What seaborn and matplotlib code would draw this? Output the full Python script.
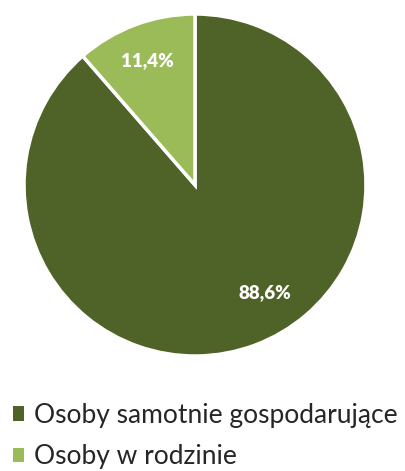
import matplotlib
matplotlib.use("Agg")
import matplotlib.pyplot as plt
import seaborn as sns
from matplotlib.patches import Patch

# data
categories = ["Osoby samotnie gospodarujące", "Osoby w rodzinie"]
shares = [88.6, 11.4]
value_labels = ["88,6%", "11,4%"]
colors = ["#4f6228", "#9bbb59"]

sns.set_theme(style="white")
plt.rcParams['font.family'] = ['Lato', 'DejaVu Sans']

fig = plt.figure(figsize=(4.05, 4.71), dpi=100)
# pie area: center ~ (195,185) px, radius ~171 px
ax = fig.add_axes([(195 - 171) / 405, 1 - (185 + 171) / 471, 342 / 405, 342 / 471])

wedges, _ = ax.pie(shares, colors=colors, startangle=90, counterclock=False,
                   wedgeprops=dict(edgecolor="white", linewidth=2.5))
ax.set_xlim(-1, 1)
ax.set_ylim(-1, 1)
ax.set_aspect("equal")

# percentage labels inside slices
label_pos = [(0.41, -0.63), (-0.28, 0.73)]
for (x, y), txt in zip(label_pos, value_labels):
    ax.text(x, y, txt, ha="center", va="center", color="white",
            fontsize=13.5, fontweight="heavy")

# legend below the pie
handles = [Patch(facecolor=c, edgecolor="none") for c in colors]
fig.legend(handles, categories, loc="upper left", bbox_to_anchor=(0.005, 0.167),
           frameon=False, fontsize=19, handlelength=0.45, handleheight=0.45,
           handletextpad=0.35, labelspacing=0.62, borderaxespad=0)

fig.savefig("out.png", dpi=100)
